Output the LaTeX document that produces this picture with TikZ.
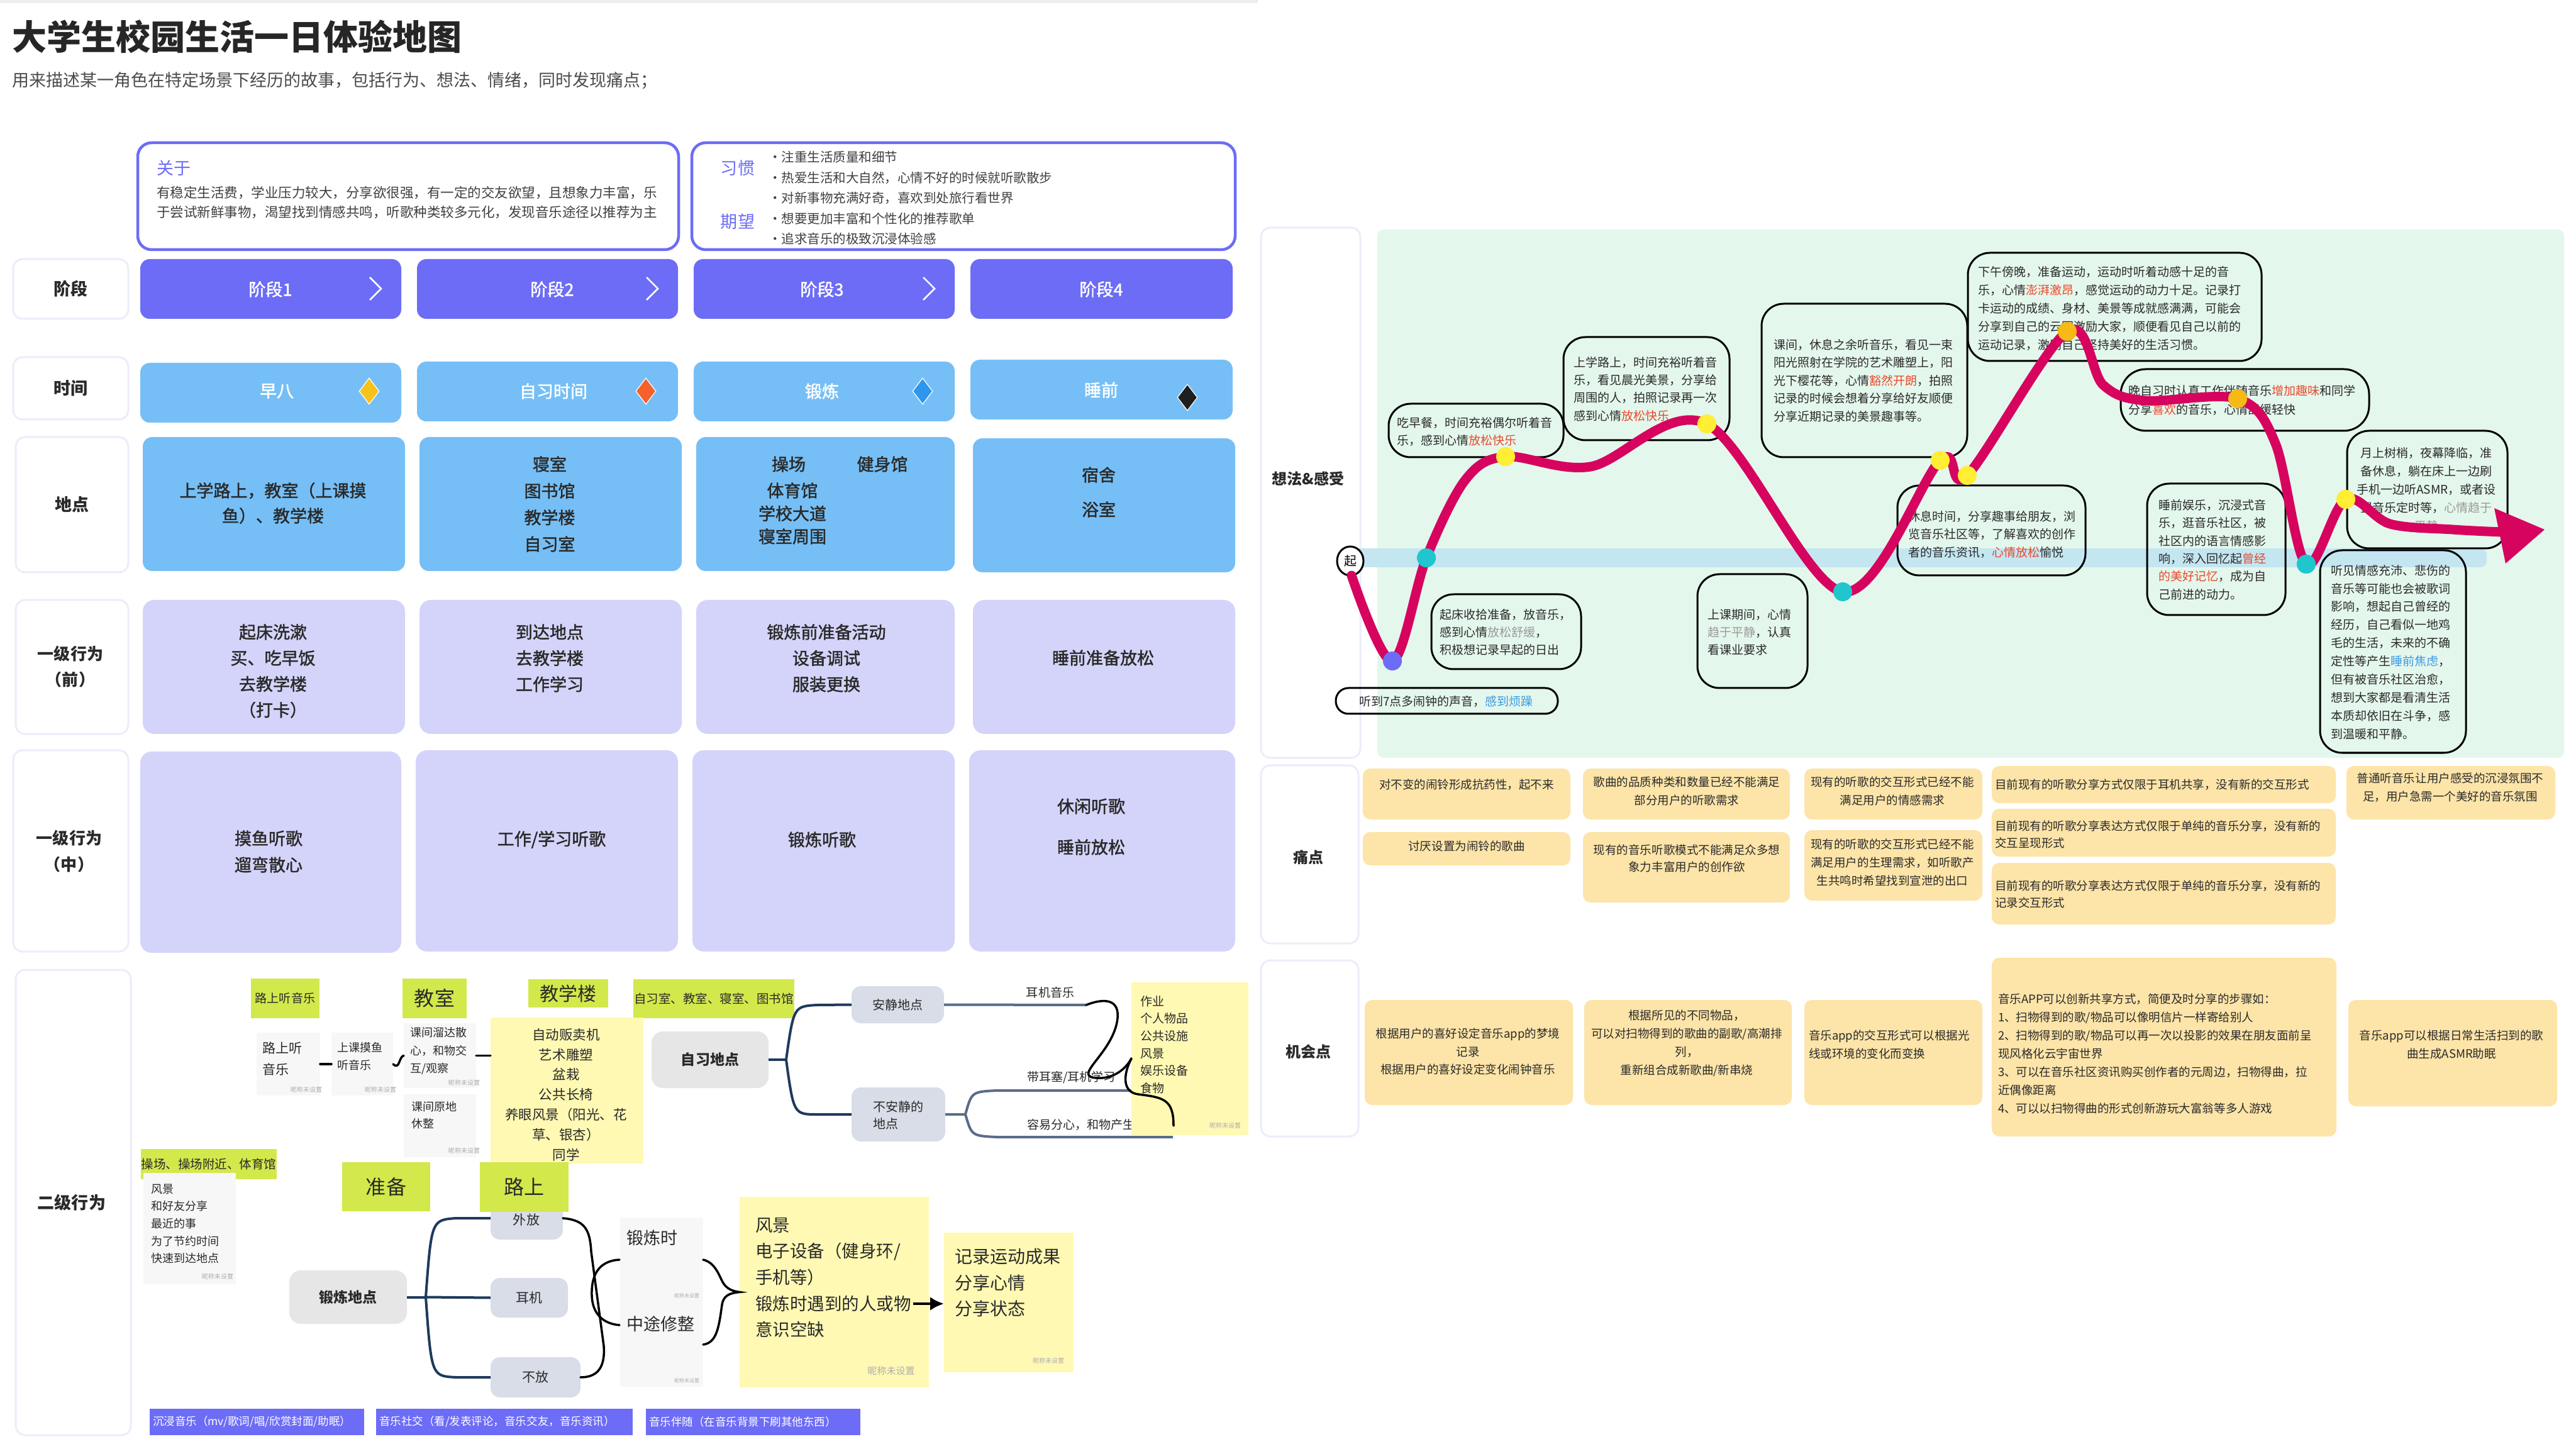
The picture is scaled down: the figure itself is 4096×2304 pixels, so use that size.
\documentclass[tikz,border=0pt]{standalone}
\usepackage{fontspec}
\setmainfont{Noto Sans CJK SC}
\newfontfamily\semib{Noto Sans CJK SC}[FakeBold=1.6]
\usetikzlibrary{shapes.geometric,arrows.meta}
\newlength\pxu
\setlength\pxu{0.28453pt}
\newcommand\fsz[2]{\fontsize{#1\pxu}{#2\pxu}\selectfont}
\newcommand\bx[6]{\node[#1, minimum width={(#5-#3)*0.01cm}, minimum height={(#6-#4)*0.01cm}] (#2) at ({(#3+#5)/2},{(#4+#6)/2}) {};}
\definecolor{cpur}{HTML}{6C6CF7}
\definecolor{cblue}{HTML}{76BFF6}
\definecolor{clav}{HTML}{D4D4FA}
\definecolor{cedge}{HTML}{ECECFB}
\definecolor{cmint}{HTML}{E4F7EC}
\definecolor{cband}{HTML}{C4E6F1}
\definecolor{ccrim}{HTML}{D6045F}
\definecolor{cpain}{HTML}{FDE4A8}
\definecolor{cgreen}{HTML}{D3E84B}
\definecolor{cstick}{HTML}{FFF9B3}
\definecolor{cgray}{HTML}{F7F7F7}
\definecolor{cnode}{HTML}{E6E6E6}
\definecolor{cbgray}{HTML}{D8DDE7}
\definecolor{cnavy}{HTML}{1E3A5C}
\definecolor{cslate}{HTML}{5A6C88}
\definecolor{cred}{HTML}{E8492E}
\definecolor{cbl}{HTML}{3B9BE6}
\definecolor{cgt}{HTML}{9A9A9A}
\definecolor{ctext}{HTML}{2A2A2A}
\definecolor{cyel}{HTML}{FFEE33}
\definecolor{corg}{HTML}{F6B915}
\definecolor{ccyan}{HTML}{1FC6CE}
\definecolor{cdyel}{HTML}{F7C21B}
\definecolor{cdred}{HTML}{F5602C}
\definecolor{cdblu}{HTML}{2F96EE}
\tikzset{
 shp/.style={rectangle, inner sep=0pt, outer sep=0pt},
 lbl/.style={shp, draw=cedge, line width=0.03cm, fill=white, rounded corners=0.15cm},
 stg/.style={shp, fill=cpur, rounded corners=0.15cm},
 tim/.style={shp, fill=cblue, rounded corners=0.15cm},
 lav/.style={shp, fill=clav, rounded corners=0.18cm},
 info/.style={shp, draw=cpur, line width=0.045cm, fill=white, rounded corners=0.22cm},
 bub/.style={shp, draw=black, line width=0.03cm, rounded corners=0.35cm},
 card/.style={shp, fill=cpain, rounded corners=0.12cm},
 grn/.style={shp, fill=cgreen},
 stk/.style={shp, fill=cgray},
 ystk/.style={shp, fill=cstick},
 gnode/.style={shp, fill=cnode, rounded corners=0.18cm},
 bnode/.style={shp, fill=cbgray, rounded corners=0.15cm},
 tagbox/.style={shp, fill=cpur},
 txt/.style={inner sep=0pt, outer sep=0pt, text=ctext},
 tree/.style={draw=cnavy, line width=0.04cm},
 slate/.style={draw=cslate, line width=0.04cm},
 hand/.style={draw=black, line width=0.035cm, line cap=round},
 dot/.style={circle, inner sep=0pt, outer sep=0pt, minimum size=0.30cm},
 dia/.style={diamond, draw=white, line width=0.012cm, inner sep=0pt, minimum width=0.32cm, minimum height=0.42cm},
 nick/.style={inner sep=0pt, text=cgt!80, font=\fsz{10}{12}},
}
\begin{document}
\begin{tikzpicture}[x=0.01cm,y=-0.01cm]
\useasboundingbox (0,0) rectangle (4096,2304);
\fill[white] (0,0) rectangle (4096,2304);
\fill[black!7] (0,0) rectangle (2000,5);

% ---------- title ----------
\node[txt, anchor=west, text=black!85, font=\fsz{55}{60}\bfseries] (title) at (19,58) {大学生校园生活一日体验地图};
\node[txt, anchor=west, text=black!70, font=\fsz{27}{30}] (subtitle) at (19,128) {用来描述某一角色在特定场景下经历的故事，包括行为、想法、情绪，同时发现痛点；};

% ---------- info boxes ----------
\bx{info}{about}{219}{227}{1079}{397}
\node[txt, anchor=west, text=cpur, font=\fsz{27}{30}] (aboutt) at (249,267) {关于};
\node[txt, anchor=west, align=left, text=black!75, font=\fsz{21.5}{31}] (aboutb) at (249,322.5) {有稳定生活费，学业压力较大，分享欲很强，有一定的交友欲望，且想象力丰富，乐\\于尝试新鲜事物，渴望找到情感共鸣，听歌种类较多元化，发现音乐途径以推荐为主};
\bx{info}{habit}{1100}{227}{1964}{397}
\node[txt, text=cpur, font=\fsz{27}{30}] (habt) at (1173,267) {习惯};
\node[txt, text=cpur, font=\fsz{27}{30}] (expt) at (1173,352) {期望};
\node[txt, anchor=west, align=left, text=black!75, font=\fsz{20.5}{32.5}] (habb) at (1222,315) {·注重生活质量和细节\\·热爱生活和大自然，心情不好的时候就听歌散步\\·对新事物充满好奇，喜欢到处旅行看世界\\·想要更加丰富和个性化的推荐歌单\\·追求音乐的极致沉浸体验感};

% ---------- left labels ----------
\bx{lbl}{L1}{21}{412}{204}{507}
\bx{lbl}{L2}{21}{568}{204}{667}
\bx{lbl}{L3}{25}{695}{204}{910}
\bx{lbl}{L4}{25}{954}{204}{1167}
\bx{lbl}{L5}{21}{1193}{204}{1513}
\bx{lbl}{L6}{25}{1542}{208}{2282}
\node[txt, font=\fsz{27}{30}\bfseries] (L1t) at (L1) {阶段};
\node[txt, font=\fsz{27}{30}\bfseries] (L2t) at (L2) {时间};
\node[txt, font=\fsz{27}{30}\bfseries] (L3t) at (L3) {地点};
\node[txt, align=center, font=\fsz{26}{41}\bfseries] (L4t) at (112,1060) {一级行为\\（前）};
\node[txt, align=center, font=\fsz{26}{42}\bfseries] (L5t) at (110,1354) {一级行为\\（中）};
\node[txt, font=\fsz{27}{30}\bfseries] (L6t) at (114,1912) {二级行为};

% ---------- stage row ----------
\bx{stg}{S1}{223}{412}{638}{507}
\bx{stg}{S2}{663}{412}{1078}{507}
\bx{stg}{S3}{1103}{412}{1518}{507}
\bx{stg}{S4}{1543}{412}{1960}{507}
\node[txt, text=white, font=\semib\fsz{27}{30}] (S1t) at (430,460) {阶段1};
\node[txt, text=white, font=\semib\fsz{27}{30}] (S2t) at (878,460) {阶段2};
\node[txt, text=white, font=\semib\fsz{27}{30}] (S3t) at (1307,460) {阶段3};
\node[txt, text=white, font=\semib\fsz{27}{30}] (S4t) at (1751,460) {阶段4};
\draw[white, line width=0.025cm] (588,441) -- (606,459) -- (588,477);
\draw[white, line width=0.025cm] (1028,441) -- (1046,459) -- (1028,477);
\draw[white, line width=0.025cm] (1468,441) -- (1486,459) -- (1468,477);

% ---------- time row ----------
\bx{tim}{T1}{223}{577}{638}{672}
\bx{tim}{T2}{663}{575}{1078}{670}
\bx{tim}{T3}{1103}{575}{1518}{670}
\bx{tim}{T4}{1543}{572}{1960}{667}
\node[txt, text=white, font=\semib\fsz{27}{30}] (T1t) at (440,622) {早八};
\node[txt, text=white, font=\semib\fsz{27}{30}] (T2t) at (880,622) {自习时间};
\node[txt, text=white, font=\semib\fsz{27}{30}] (T3t) at (1307,622) {锻炼};
\node[txt, text=white, font=\semib\fsz{27}{30}] (T4t) at (1751,620) {睡前};
\node[dia, fill=cdyel] (dm1) at (587,622) {};
\node[dia, fill=cdred] (dm2) at (1027,622) {};
\node[dia, fill=cdblu] (dm3) at (1467,622) {};
\node[dia, fill=black!88] (dm4) at (1888,632) {};

% ---------- location row ----------
\bx{tim}{G1}{227}{695}{644}{908}
\bx{tim}{G2}{667}{695}{1084}{908}
\bx{tim}{G3}{1107}{695}{1518}{908}
\bx{tim}{G4}{1547}{697}{1964}{910}
\node[txt, align=center, font=\semib\fsz{27}{40}] (G1t) at (434,800) {上学路上，教室（上课摸\\鱼）、教学楼};
\node[txt, align=center, font=\semib\fsz{27}{42.3}] (G2t) at (874,801.5) {寝室\\图书馆\\教学楼\\自习室};
\node[txt, font=\semib\fsz{27}{30}] (G3a) at (1254,738) {操场};
\node[txt, font=\semib\fsz{27}{30}] (G3b) at (1403,738) {健身馆};
\node[txt, align=center, font=\semib\fsz{27}{36.5}] (G3c) at (1260,816.5) {体育馆\\学校大道\\寝室周围};
\node[txt, font=\semib\fsz{27}{30}] (G4a) at (1747,755) {宿舍};
\node[txt, font=\semib\fsz{27}{30}] (G4b) at (1747,810) {浴室};

% ---------- first-level behaviour ----------
\bx{lav}{B1}{227}{954}{644}{1167}
\bx{lav}{B2}{667}{954}{1084}{1167}
\bx{lav}{B3}{1107}{954}{1518}{1167}
\bx{lav}{B4}{1547}{954}{1964}{1167}
\node[txt, align=center, font=\semib\fsz{27}{41.3}] (B1t) at (434,1067) {起床洗漱\\买、吃早饭\\去教学楼\\（打卡）};
\node[txt, align=center, font=\semib\fsz{27}{41.5}] (B2t) at (874,1046.5) {到达地点\\去教学楼\\工作学习};
\node[txt, align=center, font=\semib\fsz{27}{41.5}] (B3t) at (1314,1046.5) {锻炼前准备活动\\设备调试\\服装更换};
\node[txt, font=\semib\fsz{27}{30}] (B4t) at (1754,1046) {睡前准备放松};
\bx{lav}{M1}{223}{1195}{638}{1515}
\bx{lav}{M2}{661}{1193}{1078}{1513}
\bx{lav}{M3}{1101}{1193}{1518}{1513}
\bx{lav}{M4}{1541}{1193}{1964}{1513}
\node[txt, align=center, font=\semib\fsz{27}{42}] (M1t) at (427,1354) {摸鱼听歌\\遛弯散心};
\node[txt, font=\semib\fsz{27}{30}] (M2t) at (877,1335) {工作/学习听歌};
\node[txt, font=\semib\fsz{27}{30}] (M3t) at (1307,1335) {锻炼听歌};
\node[txt, align=center, font=\semib\fsz{27}{65}] (M4t) at (1735,1314.5) {休闲听歌\\睡前放松};

% ---------- second-level behaviour ----------
\bx{grn}{ga}{399}{1556}{508}{1619}
\node[txt, font=\fsz{19}{22}] (gat) at (ga) {路上听音乐};
\bx{grn}{gb}{640}{1556}{742}{1619}
\node[txt, font=\fsz{32}{36}] (gbt) at (gb) {教室};
\bx{grn}{gc}{840}{1557}{967}{1602}
\node[txt, font=\fsz{30}{34}] (gct) at (gc) {教学楼};
\bx{grn}{gd}{1007}{1557}{1263}{1619}
\node[txt, font=\fsz{19.5}{22}] (gdt) at (gd) {自习室、教室、寝室、图书馆};

\bx{stk}{s1}{408}{1642}{509}{1742}
\node[txt, anchor=west, align=left, font=\fsz{21}{33}] (s1t) at (417,1683.5) {路上听\\音乐};
\bx{stk}{s2}{527}{1642}{625}{1742}
\node[txt, anchor=west, align=left, font=\fsz{18}{28}] (s2t) at (536,1680) {上课摸鱼\\听音乐};
\bx{stk}{s3}{642}{1627}{757}{1730}
\node[txt, anchor=west, align=left, font=\fsz{18}{28.5}] (s3t) at (652,1671.5) {课间溜达散\\心，和物交\\互/观察};
\bx{stk}{s4}{642}{1740}{757}{1840}
\node[txt, anchor=west, align=left, font=\fsz{18}{27}] (s4t) at (654,1773.5) {课间原地\\休整};
\bx{ystk}{s5}{780}{1618}{1023}{1850}
\node[txt, align=center, font=\fsz{21.5}{31.8}] (s5t) at (900,1740.5) {自动贩卖机\\艺术雕塑\\盆栽\\公共长椅\\养眼风景（阳光、花\\草、银杏）\\同学};
\node[nick] (n1) at (487,1733) {昵称未设置};
\node[nick] (n2) at (605,1733) {昵称未设置};
\node[nick] (n3) at (738,1722) {昵称未设置};
\node[nick] (n4) at (738,1830) {昵称未设置};

\draw[hand] (s1.east) -- (s2.west);
\draw[hand] (s2.east) .. controls (636,1702) and (634,1680) .. (s3.west);
\draw[hand] (s3.east) -- (s3.east -| s5.west);

\bx{gnode}{zxdd}{1036}{1640}{1222}{1730}
\node[txt, font=\fsz{23}{26}\bfseries] (zxddt) at (zxdd) {自习地点};
\bx{bnode}{aq}{1354}{1568}{1501}{1627}
\node[txt, font=\fsz{20}{24}] (aqt) at (aq) {安静地点};
\bx{bnode}{baq}{1354}{1729}{1503}{1815}
\node[txt, anchor=west, align=left, font=\fsz{20}{27}] (baqt) at (1388,1773.5) {不安静的\\地点};
\draw[tree] (zxdd.east) -- ++(28,0) coordinate (zxj);
\draw[tree] (zxj) .. controls (1262,1600) .. (1300,1598) -- (aq.west);
\draw[tree] (zxj) .. controls (1262,1772) .. (1300,1772) -- (baq.west);
\coordinate (eje) at (1727,1598);
\draw[slate] (aq.east) -- (eje);
\draw[slate] (baq.east) -- ++(32,0) coordinate (bqj);
\coordinate (up1) at (1865,1734);
\coordinate (dn1) at (1865,1808);
\draw[slate] (bqj) .. controls (1545,1736) .. (1585,1734) -- (up1);
\draw[slate] (bqj) .. controls (1545,1806) .. (1585,1808) -- (dn1);
\node[txt, font=\fsz{19}{22}] (lb1) at (1670,1578) {耳机音乐};
\node[txt, anchor=west, font=\fsz{19}{22}] (lb2) at (1633,1713) {带耳塞/耳机学习};
\node[txt, anchor=west, font=\fsz{19}{22}] (lb3) at (1633,1788) {容易分心，和物产生};
\bx{ystk}{s6}{1799}{1562}{1985}{1805}
\node[txt, anchor=west, align=left, font=\fsz{19}{27.6}] (s6t) at (1813,1661) {作业\\个人物品\\公共设施\\风景\\娱乐设备\\食物};
\node[nick] (n5) at (1948,1790) {昵称未设置};
\draw[hand] (eje) .. controls (1760,1585) and (1785,1590) .. (1775,1630) .. controls (1762,1680) and (1705,1712) .. (1744,1714) .. controls (1770,1716) and (1790,1700) .. (1799,1683);
\draw[hand] (1799,1683) .. controls (1785,1710) and (1785,1737) .. (1810,1740) .. controls (1850,1745) and (1866,1748) .. (1866,1790);

\bx{grn}{ge}{224}{1827}{440}{1875}
\node[txt, font=\fsz{19.5}{22}] (get) at (ge) {操场、操场附近、体育馆};
\bx{stk}{s7}{228}{1865}{375}{2042}
\node[txt, anchor=west, align=left, font=\fsz{18}{27.5}] (s7t) at (240,1946) {风景\\和好友分享\\最近的事\\为了节约时间\\快速到达地点};
\node[nick] (n6) at (346,2030) {昵称未设置};

\bx{bnode}{wf}{780}{1903}{895}{1971}
\node[txt, font=\fsz{21}{24}] (wft) at (837,1940) {外放};
\bx{grn}{gf}{544}{1848}{684}{1926}
\node[txt, font=\fsz{32}{36}] (gft) at (gf) {准备};
\bx{grn}{gg}{763}{1848}{904}{1927}
\node[txt, font=\fsz{32}{36}] (ggt) at (gg) {路上};

\bx{gnode}{dl}{460}{2020}{647}{2105}
\node[txt, font=\fsz{23}{26}\bfseries] (dlt) at (dl) {锻炼地点};
\bx{bnode}{ej}{780}{2032}{903}{2095}
\node[txt, font=\fsz{21}{24}] (ejt) at (ej) {耳机};
\bx{bnode}{bf}{780}{2158}{923}{2222}
\node[txt, font=\fsz{21}{24}] (bft) at (bf) {不放};
\draw[tree] (dl.east) -- ++(30,0) coordinate (dlj);
\draw[tree] (dlj) .. controls (686,1940) .. (725,1937) -- (wf.west);
\draw[tree] (dlj) -- (ej.west);
\draw[tree] (dlj) .. controls (686,2188) .. (725,2190) -- (bf.west);

\bx{stk}{s8}{986}{1936}{1118}{2205}
\node[txt, anchor=west, font=\fsz{27}{30}] (s8a) at (996,1968) {锻炼时};
\node[txt, anchor=west, font=\fsz{27}{30}] (s8b) at (996,2105) {中途修整};
\node[nick, font=\fsz{8}{10}] (n7) at (1092,2060) {昵称未设置};
\node[nick, font=\fsz{8}{10}] (n8) at (1092,2195) {昵称未设置};
\draw[hand] (wf.east) .. controls (930,1940) and (938,1955) .. (940,1990) -- (960,2140) .. controls (963,2180) and (945,2190) .. (bf.east);
\draw[hand] (985,2003) .. controls (950,2005) and (940,2030) .. (941,2060) .. controls (942,2090) and (960,2105) .. (985,2107);

\bx{ystk}{s9}{1176}{1903}{1477}{2206}
\node[txt, anchor=west, align=left, font=\fsz{27.5}{41.7}] (s9t) at (1201,2031.5) {风景\\电子设备（健身环/\\手机等）\\锻炼时遇到的人或物\\意识空缺};
\node[nick, font=\fsz{15}{17}] (n9) at (1417,2180) {昵称未设置};
\draw[hand] (1118,2003) .. controls (1140,2008) and (1145,2035) .. (1152,2043) .. controls (1158,2050) and (1165,2053) .. (s9.west) .. controls (1160,2056) and (1150,2060) .. (1148,2075) .. controls (1143,2110) and (1140,2135) .. (1118,2138);

\bx{ystk}{s10}{1501}{1960}{1707}{2182}
\node[txt, anchor=west, align=left, font=\fsz{28}{41.5}] (s10t) at (1518,2039.5) {记录运动成果\\分享心情\\分享状态};
\node[nick] (n10) at (1667,2164) {昵称未设置};
\coordinate (arst) at (1452,2073);
\draw[line width=0.045cm, -{Latex[length=0.22cm,width=0.22cm]}] (arst) -- (arst -| s10.west);

\bx{tagbox}{tg1}{238}{2240}{579}{2282}
\node[txt, anchor=west, text=white, font=\fsz{17.5}{20}] (tg1t) at (243,2261) {沉浸音乐（mv/歌词/唱/欣赏封面/助眠）};
\bx{tagbox}{tg2}{598}{2240}{1006}{2282}
\node[txt, anchor=west, text=white, font=\fsz{17.5}{20}] (tg2t) at (603,2261) {音乐社交（看/发表评论，音乐交友，音乐资讯）};
\bx{tagbox}{tg3}{1027}{2240}{1368}{2282}
\node[txt, anchor=west, text=white, font=\fsz{17.5}{20}] (tg3t) at (1032,2261) {音乐伴随（在音乐背景下刷其他东西）};

% ---------- right: thoughts & feelings ----------
\bx{lbl}{L7}{2005}{362}{2163}{1205}
\node[txt, font=\fsz{24}{28}\bfseries] (L7t) at (2080,761) {想法\&感受};
\bx{shp, fill=cmint, rounded corners=0.1cm}{mint}{2190}{365}{4077}{1205}
\fill[cband, rounded corners=0.1cm] (2134,872) rectangle (3954,902);

\bx{bub, rounded corners=0.2cm}{b1}{2124}{1094}{2477}{1135}
\node[txt, anchor=west, font=\fsz{19}{28.5}] (b1t) at (2161,1115) {听到7点多闹钟的声音，{\color{cbl}感到烦躁}};
\bx{bub}{b2}{2208}{642}{2486}{727}
\node[txt, anchor=west, align=left, font=\fsz{19}{28}] (b2t) at (2221,686) {吃早餐，时间充裕偶尔听着音\\乐，感到心情{\color{cred}放松快乐}};
\bx{bub}{b3}{2486}{536}{2750}{700}
\node[txt, anchor=west, align=left, font=\fsz{19}{28.3}] (b3t) at (2502,618.5) {上学路上，时间充裕听着音\\乐，看见晨光美景，分享给\\周围的人，拍照记录再一次\\感到心情{\color{cred}放松快乐}};
\bx{bub}{b4}{2276}{945}{2514}{1064}
\node[txt, anchor=west, align=left, font=\fsz{19}{28}] (b4t) at (2289,1005) {起床收拾准备，放音乐，\\感到心情{\color{cgt}放松舒缓}，\\积极想记录早起的日出};
\bx{bub}{b5}{2699}{913}{2874}{1094}
\node[txt, anchor=west, align=left, font=\fsz{19}{28}] (b5t) at (2715,1005) {上课期间，心情\\{\color{cgt}趋于平静}，认真\\看课业要求};
\bx{bub}{b6}{2801}{483}{3128}{727}
\node[txt, anchor=west, align=left, font=\fsz{19}{28.5}] (b6t) at (2820,605) {课间，休息之余听音乐，看见一束\\阳光照射在学院的艺术雕塑上，阳\\光下樱花等，心情{\color{cred}豁然开朗}，拍照\\记录的时候会想着分享给好友顺便\\分享近期记录的美景趣事等。};
\bx{bub}{b7}{3017}{772}{3316}{915}
\node[txt, anchor=west, align=left, font=\fsz{19}{28.5}] (b7t) at (3034,849.5) {休息时间，分享趣事给朋友，浏\\览音乐社区等，了解喜欢的创作\\者的音乐资讯，{\color{cred}心情放松}愉悦};
\bx{bub}{b8}{3129}{402}{3596}{574}
\node[txt, anchor=west, align=left, font=\fsz{19}{29}] (b8t) at (3145,490) {下午傍晚，准备运动，运动时听着动感十足的音\\乐，心情{\color{cred}澎湃激昂}，感觉运动的动力十足。记录打\\卡运动的成绩、身材、美景等成就感满满，可能会\\分享到自己的云圈激励大家，顺便看见自己以前的\\运动记录，激励自己坚持美好的生活习惯。};
\bx{bub, rounded corners=0.4cm}{b9}{3372}{587}{3767}{685}
\node[txt, anchor=west, align=left, font=\fsz{19}{30}] (b9t) at (3384,636) {晚自习时认真工作伴随音乐{\color{cred}增加趣味}和同学\\分享{\color{cred}喜欢}的音乐，心情舒缓轻快};
\bx{bub}{b10}{3414}{769}{3634}{978}
\node[txt, anchor=west, align=left, font=\fsz{19}{28.4}] (b10t) at (3432,874) {睡前娱乐，沉浸式音\\乐，逛音乐社区，被\\社区内的语言情感影\\响，深入回忆起{\color{cred}曾经}\\{\color{cred}的美好记忆}，成为自\\己前进的动力。};
\bx{bub}{b11}{3732}{685}{3987}{872}
\node[txt, align=center, font=\fsz{19}{29}] (b11t) at (3858,778) {月上树梢，夜幕降临，准\\备休息，躺在床上一边刷\\手机一边听ASMR，或者设\\置音乐定时等，{\color{cgt}心情趋于}\\{\color{cgt}平静}};
\bx{bub}{b12}{3689}{875}{3921}{1197}
\node[txt, anchor=west, align=left, font=\fsz{19}{28.9}] (b12t) at (3706,1037) {听见情感充沛、悲伤的\\音乐等可能也会被歌词\\影响，想起自己曾经的\\经历，自己看似一地鸡\\毛的生活，未来的不确\\定性等产生{\color{cbl}睡前焦虑}，\\但有被音乐社区治愈，\\想到大家都是看清生活\\本质却依旧在斗争，感\\到温暖和平静。};

\node[ellipse, draw=black, line width=0.03cm, fill=white, minimum width=0.42cm, minimum height=0.46cm, inner sep=0pt, font=\fsz{20}{22}] (qi) at (2147,892) {起};

% emotion curve
\draw[ccrim, line width=0.15cm, line cap=round, line join=round] plot[smooth, tension=0.55] coordinates {(2149,915) (2214,1051) (2268,887) (2330,763) (2394,726) (2529,742) (2714,674) (2930,941) (3085,732) (3128,756) (3287,527) (3344,612) (3410,637) (3558,634) (3618,705) (3667,897) (3730,794) (3800,833) (3900,842) (3978,846)};
\fill[ccrim] (4046,842) -- (3966,808) -- (3984,896) -- cycle;

\node[dot, fill=cpur] (d1) at (2214,1051) {};
\node[dot, fill=ccyan] (d2) at (2268,887) {};
\node[dot, fill=cyel] (d3) at (2394,726) {};
\node[dot, fill=cyel] (d4) at (2714,674) {};
\node[dot, fill=ccyan] (d5) at (2930,941) {};
\node[dot, fill=cyel] (d6) at (3085,732) {};
\node[dot, fill=cyel] (d7) at (3128,756) {};
\node[dot, fill=corg] (d8) at (3287,527) {};
\node[dot, fill=corg] (d9) at (3558,634) {};
\node[dot, fill=ccyan] (d10) at (3667,897) {};
\node[dot, fill=cyel] (d11) at (3730,794) {};

% ---------- pain points ----------
\bx{lbl}{L8}{2005}{1217}{2160}{1500}
\node[txt, font=\fsz{24}{28}\bfseries] (L8t) at (2080,1363) {痛点};
\bx{card}{P1}{2167}{1222}{2497}{1303}
\node[txt, font=\fsz{18.5}{28.5}] (P1t) at (2332,1248) {对不变的闹铃形成抗药性，起不来};
\bx{card}{P2}{2167}{1323}{2497}{1376}
\node[txt, font=\fsz{18.5}{28.5}] (P2t) at (2332,1345) {讨厌设置为闹铃的歌曲};
\bx{card}{P3}{2517}{1222}{2846}{1303}
\node[txt, align=center, font=\fsz{18.5}{29}] (P3t) at (2682,1257.5) {歌曲的品质种类和数量已经不能满足\\部分用户的听歌需求};
\bx{card}{P4}{2517}{1323}{2846}{1435}
\node[txt, align=center, font=\fsz{18.5}{27}] (P4t) at (2682,1365) {现有的音乐听歌模式不能满足众多想\\象力丰富用户的创作欲};
\bx{card}{P5}{2869}{1222}{3152}{1303}
\node[txt, align=center, font=\fsz{18.5}{29}] (P5t) at (3009,1257.5) {现有的听歌的交互形式已经不能\\满足用户的情感需求};
\bx{card}{P6}{2869}{1320}{3152}{1432}
\node[txt, align=center, font=\fsz{18.5}{29}] (P6t) at (3009,1371) {现有的听歌的交互形式已经不能\\满足用户的生理需求，如听歌产\\生共鸣时希望找到宣泄的出口};
\bx{card}{P7}{3167}{1218}{3714}{1277}
\node[txt, anchor=west, font=\fsz{18.5}{28.5}] (P7t) at (3172,1248) {目前现有的听歌分享方式仅限于耳机共享，没有新的交互形式};
\bx{card}{P8}{3167}{1286}{3714}{1362}
\node[txt, anchor=west, align=left, font=\fsz{18.5}{27}] (P8t) at (3172,1326.5) {目前现有的听歌分享表达方式仅限于单纯的音乐分享，没有新的\\交互呈现形式};
\bx{card}{P9}{3167}{1372}{3714}{1470}
\node[txt, anchor=west, align=left, font=\fsz{18.5}{27}] (P9t) at (3172,1421.5) {目前现有的听歌分享表达方式仅限于单纯的音乐分享，没有新的\\记录交互形式};
\bx{card}{P10}{3731}{1218}{4063}{1303}
\node[txt, align=center, font=\fsz{18.5}{29}] (P10t) at (3896,1252.5) {普通听音乐让用户感受的沉浸氛围不\\足，用户急需一个美好的音乐氛围};

% ---------- opportunities ----------
\bx{lbl}{L9}{2005}{1527}{2160}{1807}
\node[txt, font=\fsz{24}{28}\bfseries] (L9t) at (2080,1672) {机会点};
\bx{card}{O1}{2170}{1590}{2501}{1757}
\node[txt, align=center, font=\fsz{18.5}{28.5}] (O1t) at (2334,1672) {根据用户的喜好设定音乐app的梦境\\记录\\根据用户的喜好设定变化闹钟音乐};
\bx{card}{O2}{2519}{1590}{2849}{1757}
\node[txt, align=center, font=\fsz{18.5}{29}] (O2t) at (2682,1658.5) {根据所见的不同物品，\\可以对扫物得到的歌曲的副歌/高潮排\\列，\\重新组合成新歌曲/新串烧};
\bx{card}{O3}{2869}{1590}{3152}{1757}
\node[txt, anchor=west, align=left, font=\fsz{18.5}{28.5}] (O3t) at (2876,1661) {音乐app的交互形式可以根据光\\线或环境的变化而变换};
\bx{card}{O4}{3167}{1523}{3715}{1807}
\node[txt, anchor=west, align=left, font=\fsz{18.5}{29}] (O4t) at (3177,1675) {音乐APP可以创新共享方式，简便及时分享的步骤如：\\1、扫物得到的歌/物品可以像明信片一样寄给别人\\2、扫物得到的歌/物品可以再一次以投影的效果在朋友面前呈\\现风格化云宇宙世界\\3、可以在音乐社区资讯购买创作者的元周边，扫物得曲，拉\\近偶像距离\\4、可以以扫物得曲的形式创新游玩大富翁等多人游戏};
\bx{card}{O5}{3734}{1590}{4066}{1759}
\node[txt, align=center, font=\fsz{18.5}{28.5}] (O5t) at (3898,1661) {音乐app可以根据日常生活扫到的歌\\曲生成ASMR助眠};
\end{tikzpicture}
\end{document}
